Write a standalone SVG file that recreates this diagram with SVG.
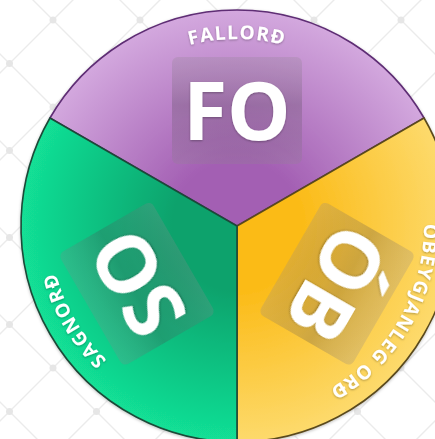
<svg xmlns="http://www.w3.org/2000/svg" width="435" height="439" viewBox="0 0 435 439">
<defs>
<pattern id="grid" patternUnits="userSpaceOnUse" x="53" y="20" width="87" height="87">
<path d="M0,0 L87,87 M87,0 L0,87" stroke="#ebebeb" stroke-width="1.4" fill="none"/>
<circle cx="0" cy="0" r="3.5" fill="#e6e6e6"/><circle cx="87" cy="0" r="3.5" fill="#e6e6e6"/>
<circle cx="0" cy="87" r="3.5" fill="#e6e6e6"/><circle cx="87" cy="87" r="3.5" fill="#e6e6e6"/>
<circle cx="43.5" cy="43.5" r="3.5" fill="#e6e6e6"/>
</pattern>
<radialGradient id="gP" gradientUnits="userSpaceOnUse" cx="237" cy="226" r="216">
<stop offset="0.3" stop-color="#a35fb3"/><stop offset="1" stop-color="#d3a8de"/>
</radialGradient>
<radialGradient id="gG" gradientUnits="userSpaceOnUse" cx="237" cy="226" r="216">
<stop offset="0.3" stop-color="#09a26c"/><stop offset="1" stop-color="#12e096"/>
</radialGradient>
<radialGradient id="gY" gradientUnits="userSpaceOnUse" cx="237" cy="226" r="216">
<stop offset="0.3" stop-color="#fbbb17"/><stop offset="1" stop-color="#fdda6c"/>
</radialGradient>
<linearGradient id="gloss" x1="0" y1="0" x2="0" y2="1">
<stop offset="0" stop-color="#ffffff" stop-opacity="0.05"/>
<stop offset="0.45" stop-color="#000000" stop-opacity="0.08"/>
<stop offset="0.6" stop-color="#000000" stop-opacity="0.04"/>
<stop offset="1" stop-color="#ffffff" stop-opacity="0.06"/>
</linearGradient>
<filter id="sh" x="-20%" y="-20%" width="140%" height="140%">
<feDropShadow dx="0" dy="1" stdDeviation="1" flood-color="#000" flood-opacity="0.3"/>
</filter>
<filter id="cs" x="-10%" y="-10%" width="120%" height="120%">
<feDropShadow dx="0" dy="1" stdDeviation="1.5" flood-color="#000" flood-opacity="0.25"/>
</filter>
<path id="arcP" d="M75.05,132.5 A187,187 0 0 1 398.95,132.5"/>
<path id="arcY" d="M398.95,132.5 A187,187 0 0 1 237,413"/>
<path id="arcG" d="M237,413 A187,187 0 0 1 75.05,132.5"/>
</defs>
<style>
.box{fill:#6e6470;fill-opacity:0.2}
.gl{fill:url(#gloss)}
.big{font-family:"Open Sans","DejaVu Sans",sans-serif;font-weight:bold;font-size:80px;fill:#ffffff;text-anchor:middle}
.lab{font-family:"Open Sans","DejaVu Sans",sans-serif;font-weight:bold;font-size:19px;fill:#ffffff;letter-spacing:1.3px}
</style>
<rect width="435" height="439" fill="#ffffff"/>
<rect width="435" height="439" fill="url(#grid)"/>
<g filter="url(#cs)">
<g id="fallord">
<path d="M237,226 L49.94,118 A216,216 0 0 1 424.06,118 Z" fill="url(#gP)" stroke="#5e2d74" stroke-width="1.6" stroke-linejoin="round"/>
</g>
<g id="obeygjanleg">
<path d="M237,226 L424.06,118 A216,216 0 0 1 237,442 Z" fill="url(#gY)" stroke="#5a4a1e" stroke-width="1.6" stroke-linejoin="round"/>
</g>
<g id="sagnord">
<path d="M237,226 L237,442 A216,216 0 0 1 49.94,118 Z" fill="url(#gG)" stroke="#1c4a38" stroke-width="1.6" stroke-linejoin="round"/>
</g>
</g>
<g id="labels-fo">
<rect class="box" x="172" y="57" width="130" height="107" rx="6"/>
<rect class="gl" x="172" y="57" width="130" height="107" rx="6"/>
<text class="big" x="237" y="140" filter="url(#sh)">FO</text>
<text class="lab" filter="url(#sh)"><textPath href="#arcP" startOffset="50%" text-anchor="middle">FALLORÐ</textPath></text>
</g>
<g id="labels-so">
<g transform="rotate(-120 237 226)">
<rect class="box" x="172" y="57" width="130" height="107" rx="6"/>
<rect class="gl" x="172" y="57" width="130" height="107" rx="6"/>
<text class="big" x="237" y="140" filter="url(#sh)">SO</text>
</g>
<text class="lab" filter="url(#sh)"><textPath href="#arcG" startOffset="50%" text-anchor="middle">SAGNORÐ</textPath></text>
</g>
<g id="labels-ob">
<g transform="rotate(120 237 226)">
<rect class="box" x="172" y="57" width="130" height="107" rx="6"/>
<rect class="gl" x="172" y="57" width="130" height="107" rx="6"/>
<text class="big" x="237" y="140" filter="url(#sh)">ÓB</text>
</g>
<text class="lab" filter="url(#sh)"><textPath href="#arcY" startOffset="50%" text-anchor="middle">ÓBEYGJANLEG ORÐ</textPath></text>
</g>
</svg>
